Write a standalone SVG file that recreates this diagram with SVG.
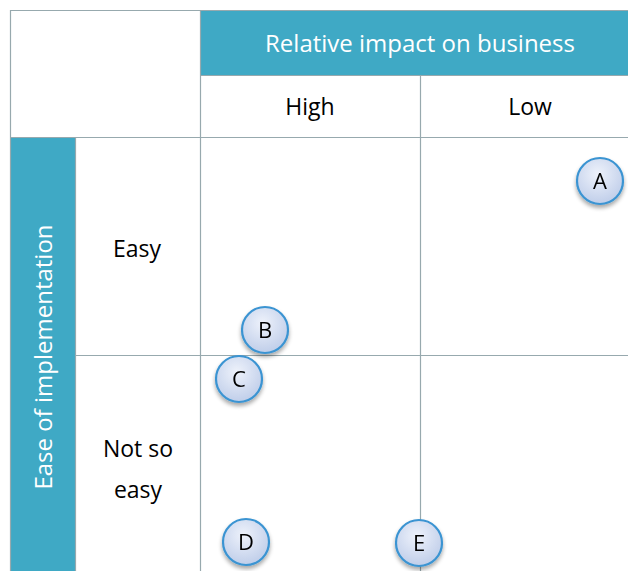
<svg xmlns="http://www.w3.org/2000/svg" width="628" height="571" viewBox="0 0 628 571">
  <defs>
    <radialGradient id="bubble" cx="0.45" cy="0.35" r="0.7">
      <stop offset="0" stop-color="#eef2fb"/>
      <stop offset="1" stop-color="#bccbe8"/>
    </radialGradient>
    <filter id="drop" x="-40%" y="-40%" width="180%" height="190%">
      <feGaussianBlur in="SourceAlpha" stdDeviation="2"/>
      <feOffset dx="0" dy="3" result="b"/>
      <feComponentTransfer><feFuncA type="linear" slope="0.35"/></feComponentTransfer>
      <feMerge><feMergeNode/><feMergeNode in="SourceGraphic"/></feMerge>
    </filter>
  </defs>
  <style>
    .grid { stroke: #97a9ae; stroke-width: 1.2; fill: none; }
    .band { fill: #3fa9c5; }
    .head { font-family: "Open Sans", "Liberation Sans", sans-serif; font-size: 24px; fill: #ffffff; text-anchor: middle; }
    .lbl { font-family: "Open Sans", "Liberation Sans", sans-serif; font-size: 23px; fill: #000000; text-anchor: middle; }
    .dot circle { fill: url(#bubble); stroke: #3b94d2; stroke-width: 2.2; }
    .dot text { font-family: "Open Sans", "Liberation Sans", sans-serif; font-size: 22px; fill: #000000; text-anchor: middle; }
  </style>

  <rect width="628" height="571" fill="#ffffff"/>

  <!-- coloured header bands -->
  <rect class="band" x="200" y="11" width="428" height="64"/>
  <rect class="band" x="11" y="138" width="64" height="433"/>

  <!-- table rules -->
  <g id="grid">
    <path class="grid" d="M10.5 571 V10.5 H628"/>
    <path class="grid" d="M200.5 11 V571"/>
    <path class="grid" d="M200 75.5 H628"/>
    <path class="grid" d="M420.5 75 V571"/>
    <path class="grid" d="M10 137.5 H628"/>
    <path class="grid" d="M75.5 138 V571"/>
    <path class="grid" d="M75 355.5 H628"/>
  </g>

  <!-- headings -->
  <text class="head" x="420" y="52">Relative impact on business</text>
  <text class="lbl" x="310" y="115">High</text>
  <text class="lbl" x="530" y="115">Low</text>
  <text class="head" transform="translate(52 357) rotate(-90)">Ease of implementation</text>
  <text class="lbl" x="137" y="257">Easy</text>
  <text class="lbl" x="138" y="457">Not so</text>
  <text class="lbl" x="138" y="498">easy</text>

  <!-- plotted items -->
  <g id="node-A" class="dot" filter="url(#drop)"><circle cx="600" cy="181" r="23"/><text x="600" y="189">A</text></g>
  <g id="node-B" class="dot" filter="url(#drop)"><circle cx="265" cy="330" r="23"/><text x="265" y="338">B</text></g>
  <g id="node-C" class="dot" filter="url(#drop)"><circle cx="239" cy="379" r="23"/><text x="239" y="387">C</text></g>
  <g id="node-D" class="dot" filter="url(#drop)"><circle cx="246" cy="542" r="23"/><text x="246" y="550">D</text></g>
  <g id="node-E" class="dot" filter="url(#drop)"><circle cx="419" cy="543" r="23"/><text x="419" y="551">E</text></g>
</svg>
